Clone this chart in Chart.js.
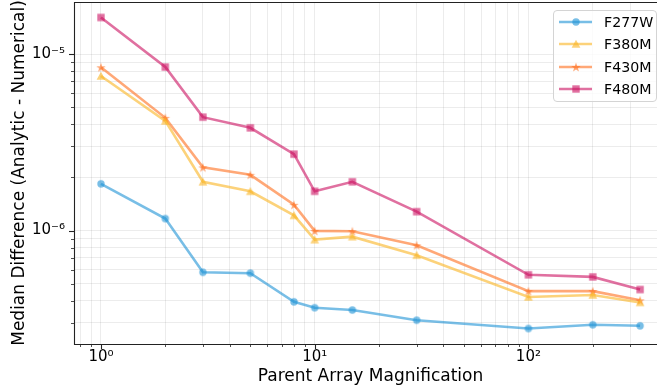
<!DOCTYPE html>
<html>
<head>
<meta charset="utf-8">
<script src="https://cdn.jsdelivr.net/npm/chart.js@4/dist/chart.umd.min.js"></script>
<style>
  html, body { margin: 0; padding: 0; background: #fff; overflow: hidden; }
  #wrap { position: relative; width: 668px; height: 387px; }
  #legend {
    position: absolute; left: 553px; top: 10px; width: 102px; height: 90px;
    border: 1px solid #d4d4d4; border-radius: 4px; background: rgba(255,255,255,0.8);
    font-family: 'DejaVu Sans', sans-serif; font-size: 14.2px; color: #000;
  }
  .row { position: absolute; left: 0; height: 18px; display: flex; align-items: center; }
  .row canvas { margin-left: 4px; }
  .row span { margin-left: 10px; }
</style>
</head>
<body>
<div id="wrap">
  <canvas id="chart" width="668" height="387"></canvas>
  <div id="legend"></div>
</div>
<script>
const magnification = [1, 2, 3, 5, 8, 10, 15, 30, 100, 200, 333];
const f277w = [1.84e-6, 1.17e-6, 5.81e-7, 5.74e-7, 3.95e-7, 3.66e-7, 3.55e-7, 3.11e-7, 2.79e-7, 2.93e-7, 2.89e-7];
const f380m = [7.51e-6, 4.18e-6, 1.89e-6, 1.67e-6, 1.22e-6, 8.89e-7, 9.24e-7, 7.26e-7, 4.21e-7, 4.32e-7, 3.92e-7];
const f430m = [8.41e-6, 4.35e-6, 2.28e-6, 2.07e-6, 1.40e-6, 9.96e-7, 9.91e-7, 8.26e-7, 4.54e-7, 4.54e-7, 4.03e-7];
const f480m = [1.61e-5, 8.44e-6, 4.39e-6, 3.82e-6, 2.71e-6, 1.67e-6, 1.89e-6, 1.28e-6, 5.62e-7, 5.47e-7, 4.64e-7];

const seriesNames = ['F277W', 'F380M', 'F430M', 'F480M'];
const seriesValues = [f277w, f380m, f430m, f480m];
const seriesColors = ['30,147,213', '250,180,33', '255,110,28', '203,17,97'];
const seriesMarkers = ['circle', 'triangle', 'star', 'square'];

const xTicks = [0.8, 0.9, 1, 2, 3, 4, 5, 6, 7, 8, 9, 10, 20, 30, 40, 50, 60, 70, 80, 90, 100, 200, 300, 400];
const xMajor = { 1: '10⁰', 10: '10¹', 100: '10²' };
const yTicks = [3e-7, 4e-7, 5e-7, 6e-7, 7e-7, 8e-7, 9e-7, 1e-6, 2e-6, 3e-6, 4e-6, 5e-6, 6e-6, 7e-6, 8e-6, 9e-6, 1e-5];
const yMajor = { '1e-6': '10⁻⁶', '1e-5': '10⁻⁵' };

const FONT = "'DejaVu Sans', sans-serif";

// small marker images, matplotlib-ish shapes
const makeMarker = (kind, rgb) => {
    const c = document.createElement('canvas');
    c.width = 14; c.height = 14;
    const ctx = c.getContext('2d');
    const cx = 7, cy = 7;
    ctx.fillStyle = `rgba(${rgb},0.6)`;
    ctx.beginPath();
    if (kind === 'circle') {
        ctx.arc(cx, cy, 3.7, 0, Math.PI * 2);
    } else if (kind === 'triangle') {
        ctx.moveTo(cx, cy - 4.3);
        ctx.lineTo(cx + 4.4, cy + 3.7);
        ctx.lineTo(cx - 4.4, cy + 3.7);
        ctx.closePath();
    } else if (kind === 'square') {
        ctx.rect(cx - 3.7, cy - 3.7, 7.4, 7.4);
    } else {
        for (let i = 0; i < 10; i++) {
            const r = i % 2 ? 2.0 : 5.0;
            const a = -Math.PI / 2 + i * Math.PI / 5;
            const px = cx + r * Math.cos(a), py = cy + 0.5 + r * Math.sin(a);
            if (i === 0) ctx.moveTo(px, py); else ctx.lineTo(px, py);
        }
        ctx.closePath();
    }
    ctx.fill();
    return c;
};

const markerImages = seriesMarkers.map((m, i) => makeMarker(m, seriesColors[i]));

const datasets = seriesNames.map((name, i) => ({
    label: name,
    data: magnification.map((m, j) => ({ x: m, y: seriesValues[i][j] })),
    borderColor: `rgba(${seriesColors[i]},0.6)`,
    backgroundColor: `rgba(${seriesColors[i]},0.6)`,
    borderWidth: 2.6,
    pointStyle: markerImages[i],
    pointRadius: 4,
    pointBorderWidth: 0,
    showLine: true,
    tension: 0
}));

// axes frame + matplotlib style tick marks
const framePlugin = {
    id: 'frame',
    afterDraw(chart) {
        const { ctx, chartArea: a } = chart;
        const xs = chart.scales.x, ys = chart.scales.y;
        ctx.save();
        ctx.strokeStyle = '#222';
        xTicks.forEach(v => {
            const px = Math.round(xs.getPixelForValue(v)) + 0.5;
            if (px < a.left || px > a.right) return;
            const major = xMajor[v] !== undefined;
            ctx.lineWidth = major ? 1.1 : 0.8;
            ctx.beginPath();
            ctx.moveTo(px, a.bottom);
            ctx.lineTo(px, a.bottom + (major ? 5 : 3));
            ctx.stroke();
        });
        yTicks.forEach(v => {
            const py = Math.round(ys.getPixelForValue(v)) + 0.5;
            const major = yMajor[v.toExponential().replace('+', '')] !== undefined;
            ctx.lineWidth = major ? 1.1 : 0.8;
            ctx.beginPath();
            ctx.moveTo(a.left, py);
            ctx.lineTo(a.left - (major ? 5 : 3), py);
            ctx.stroke();
        });
        ctx.lineWidth = 1.1;
        ctx.beginPath();
        ctx.moveTo(a.right + 2, a.top + 0.5);
        ctx.lineTo(a.left + 0.5, a.top + 0.5);
        ctx.lineTo(a.left + 0.5, a.bottom + 0.5);
        ctx.lineTo(a.right + 2, a.bottom + 0.5);
        ctx.stroke();
        ctx.restore();
    }
};

const gridColor = 'rgba(0,0,0,0.075)';

new Chart(document.getElementById('chart'), {
    type: 'scatter',
    data: { datasets },
    options: {
        responsive: false,
        animation: false,
        devicePixelRatio: 1,
        layout: { autoPadding: false, padding: { top: 2, right: 1, left: 0, bottom: 0 } },
        plugins: { legend: { display: false }, tooltip: { enabled: false } },
        scales: {
            x: {
                type: 'logarithmic',
                bounds: 'data',
                min: 0.748,
                max: 445,
                afterBuildTicks: s => { s.ticks = xTicks.map(v => ({ value: v })); },
                afterFit: s => { s.height = 43; s.paddingLeft = 0; s.paddingRight = 0; },
                ticks: {
                    autoSkip: false, maxRotation: 0, padding: 4,
                    color: '#000', font: { family: FONT, size: 15 },
                    callback: v => xMajor[v] || ''
                },
                grid: { color: gridColor, lineWidth: 1, drawTicks: false },
                border: { display: false },
                title: {
                    display: true, text: 'Parent Array Magnification', color: '#000',
                    font: { family: FONT, size: 17 }, padding: { top: 0, bottom: 0 }
                }
            },
            y: {
                type: 'logarithmic',
                bounds: 'data',
                min: 2.28e-7,
                max: 1.97e-5,
                afterBuildTicks: s => { s.ticks = yTicks.map(v => ({ value: v })); },
                afterFit: s => { s.width = 74; s.paddingTop = 0; s.paddingBottom = 0; },
                ticks: {
                    autoSkip: false, padding: 9,
                    color: '#000', font: { family: FONT, size: 15 },
                    callback: v => yMajor[Number(v).toExponential().replace('+', '')] || ''
                },
                grid: { color: gridColor, lineWidth: 1, drawTicks: false },
                border: { display: false },
                title: {
                    display: true, text: 'Median Difference (Analytic - Numerical)', color: '#000',
                    font: { family: FONT, size: 17 }, padding: { top: 9, bottom: 0 }
                }
            }
        }
    },
    plugins: [framePlugin]
});

// legend: line sample with marker, then label
const legend = document.getElementById('legend');
seriesNames.forEach((name, i) => {
    const row = document.createElement('div');
    row.className = 'row';
    row.style.top = (2 + i * 22.3) + 'px';
    const c = document.createElement('canvas');
    c.width = 36; c.height = 14;
    const ctx = c.getContext('2d');
    ctx.strokeStyle = `rgba(${seriesColors[i]},0.6)`;
    ctx.lineWidth = 2.6;
    ctx.beginPath();
    ctx.moveTo(1, 7); ctx.lineTo(34, 7);
    ctx.stroke();
    ctx.drawImage(markerImages[i], 18 - 7, 0);
    const label = document.createElement('span');
    label.textContent = name;
    row.appendChild(c);
    row.appendChild(label);
    legend.appendChild(row);
});
</script>
</body>
</html>
